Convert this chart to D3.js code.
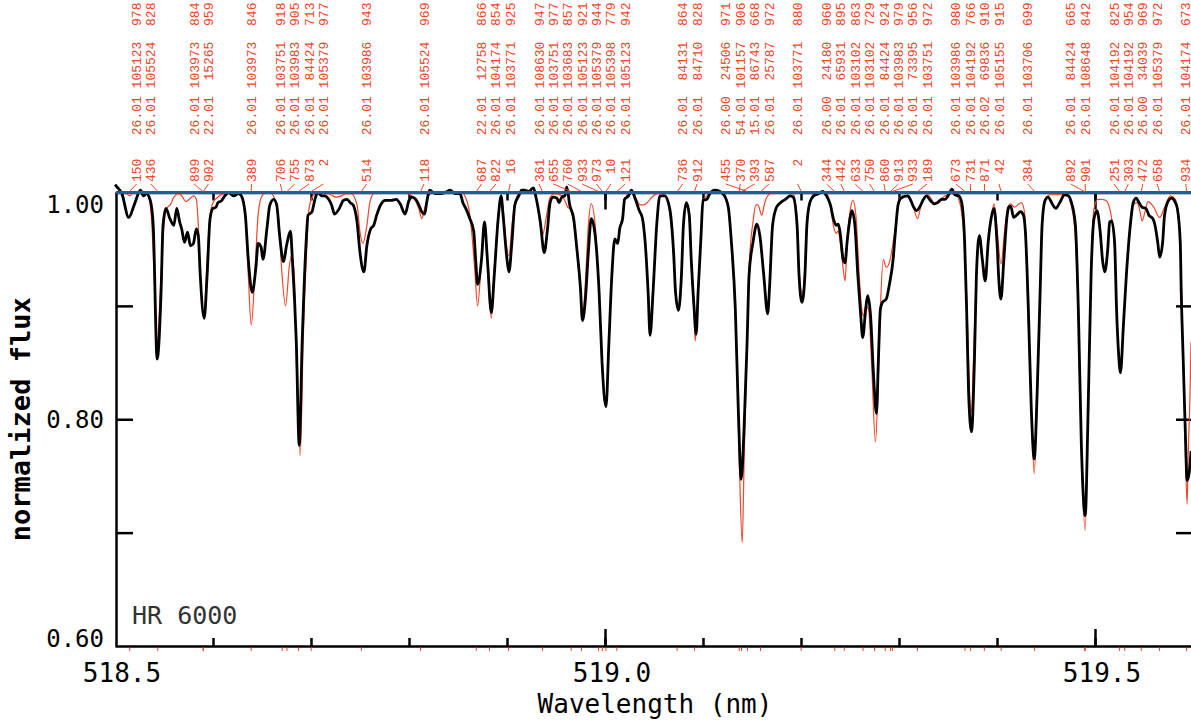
<!DOCTYPE html>
<html>
<head>
<meta charset="utf-8">
<script src="https://cdn.jsdelivr.net/npm/d3@7"></script>
<style>
  body { margin: 0; background: #fff; }
  .axis path, .axis line { stroke: #000; stroke-width: 2.5; }
  .ids text { font-family: 'Liberation Mono', 'DejaVu Sans Mono', monospace; font-size: 13px; fill: #f0462a; white-space: pre; }
</style>
</head>
<body>
<div class="canvas"></div>
<script>
// observed spectrum of HR 6000, [wavelength nm, normalized flux]
const observed = [
  [518.500,1.007],[518.502,1.005],[518.507,0.999],[518.514,0.978],[518.520,0.990],[518.526,1.002],[518.529,0.997],[518.532,0.999],
  [518.536,0.993],[518.539,0.971],[518.543,0.853],[518.547,0.912],[518.549,0.971],[518.552,0.986],[518.556,0.977],[518.560,0.971],
  [518.563,0.986],[518.566,0.974],[518.568,0.968],[518.571,0.956],[518.574,0.965],[518.577,0.953],[518.580,0.955],[518.583,0.968],
  [518.585,0.962],[518.587,0.927],[518.591,0.889],[518.594,0.927],[518.597,0.977],[518.600,0.986],[518.603,0.987],[518.605,0.991],
  [518.609,0.993],[518.612,0.997],[518.616,1.000],[518.621,0.997],[518.626,0.999],[518.629,0.997],[518.633,0.980],[518.636,0.941],
  [518.640,0.912],[518.644,0.936],[518.646,0.955],[518.649,0.952],[518.651,0.941],[518.655,0.968],[518.658,0.989],[518.662,0.994],
  [518.665,0.989],[518.668,0.962],[518.672,0.939],[518.675,0.953],[518.679,0.966],[518.681,0.941],[518.685,0.868],[518.688,0.777],
  [518.691,0.868],[518.695,0.956],[518.697,0.980],[518.701,0.983],[518.704,0.994],[518.707,1.000],[518.711,0.997],[518.714,0.997],
  [518.718,0.994],[518.721,0.989],[518.724,0.981],[518.729,0.986],[518.733,0.993],[518.737,0.994],[518.740,0.991],[518.743,0.989],
  [518.747,0.974],[518.750,0.947],[518.754,0.930],[518.757,0.953],[518.761,0.968],[518.764,0.971],[518.767,0.980],[518.771,0.989],
  [518.776,0.993],[518.782,0.993],[518.787,0.994],[518.791,0.990],[518.796,0.981],[518.800,0.993],[518.803,0.996],[518.807,0.994],
  [518.810,0.989],[518.813,0.983],[518.816,0.981],[518.818,0.991],[518.821,1.002],[518.827,0.999],[518.832,0.999],[518.837,1.000],
  [518.842,1.002],[518.847,0.999],[518.852,0.999],[518.855,0.991],[518.859,0.984],[518.862,0.977],[518.866,0.966],[518.868,0.941],
  [518.870,0.919],[518.874,0.941],[518.877,0.974],[518.880,0.941],[518.884,0.894],[518.887,0.927],[518.891,0.977],[518.894,0.997],
  [518.896,0.980],[518.900,0.941],[518.902,0.930],[518.905,0.956],[518.908,0.989],[518.912,0.997],[518.915,1.002],[518.918,1.002],
  [518.922,1.001],[518.927,1.004],[518.930,0.994],[518.934,0.974],[518.938,0.947],[518.941,0.965],[518.944,0.991],[518.947,0.996],
  [518.951,0.995],[518.953,0.991],[518.956,0.996],[518.959,0.997],[518.961,1.005],[518.964,0.989],[518.968,0.977],[518.971,0.953],
  [518.975,0.915],[518.977,0.887],[518.980,0.906],[518.983,0.947],[518.986,0.977],[518.990,0.962],[518.994,0.912],[518.997,0.850],
  [519.001,0.811],[519.004,0.868],[519.007,0.927],[519.010,0.959],[519.013,0.955],[519.015,0.968],[519.018,0.977],[519.020,0.994],
  [519.024,0.997],[519.027,1.002],[519.031,0.994],[519.035,0.984],[519.038,0.978],[519.041,0.956],[519.044,0.912],[519.046,0.874],
  [519.049,0.912],[519.053,0.974],[519.056,0.997],[519.061,0.997],[519.066,0.986],[519.070,0.947],[519.072,0.912],[519.075,0.896],
  [519.078,0.927],[519.080,0.971],[519.083,0.991],[519.086,0.980],[519.088,0.941],[519.091,0.897],[519.093,0.875],[519.095,0.912],
  [519.098,0.962],[519.100,0.993],[519.104,0.994],[519.107,0.999],[519.112,1.002],[519.117,1.001],[519.122,0.997],[519.126,0.986],
  [519.129,0.956],[519.133,0.897],[519.136,0.809],[519.139,0.747],[519.142,0.794],[519.145,0.868],[519.147,0.927],[519.151,0.956],
  [519.155,0.972],[519.158,0.962],[519.162,0.927],[519.166,0.893],[519.168,0.918],[519.171,0.971],[519.175,0.987],[519.179,0.991],
  [519.184,0.994],[519.189,0.997],[519.192,0.996],[519.196,0.971],[519.198,0.927],[519.201,0.903],[519.204,0.927],[519.206,0.971],
  [519.209,0.991],[519.213,0.997],[519.218,0.999],[519.222,1.001],[519.226,0.997],[519.230,0.989],[519.233,0.977],[519.236,0.971],
  [519.238,0.972],[519.240,0.964],[519.243,0.941],[519.245,0.938],[519.247,0.956],[519.250,0.977],[519.252,0.984],[519.255,0.971],
  [519.258,0.927],[519.261,0.891],[519.263,0.872],[519.266,0.897],[519.268,0.909],[519.271,0.891],[519.274,0.839],[519.277,0.805],
  [519.279,0.853],[519.281,0.897],[519.283,0.903],[519.287,0.906],[519.290,0.918],[519.294,0.941],[519.296,0.962],[519.299,0.989],
  [519.301,0.994],[519.304,0.996],[519.309,0.997],[519.312,0.993],[519.315,0.987],[519.318,0.984],[519.321,0.987],[519.325,0.994],
  [519.328,0.997],[519.332,0.993],[519.336,0.990],[519.339,0.991],[519.344,0.994],[519.347,0.994],[519.350,0.997],[519.354,1.003],
  [519.357,0.998],[519.361,0.997],[519.364,0.991],[519.367,0.956],[519.369,0.897],[519.371,0.824],[519.374,0.789],[519.377,0.853],
  [519.379,0.927],[519.382,0.962],[519.385,0.941],[519.388,0.922],[519.391,0.956],[519.394,0.977],[519.397,0.986],[519.400,0.956],
  [519.402,0.921],[519.404,0.906],[519.407,0.941],[519.410,0.977],[519.412,0.987],[519.414,0.988],[519.417,0.978],[519.420,0.980],
  [519.424,0.983],[519.427,0.980],[519.429,0.965],[519.432,0.897],[519.435,0.809],[519.438,0.765],[519.441,0.824],[519.444,0.912],
  [519.446,0.971],[519.449,0.993],[519.452,0.996],[519.457,0.989],[519.460,0.986],[519.464,0.991],[519.469,0.998],[519.473,0.997],
  [519.476,0.991],[519.480,0.971],[519.483,0.897],[519.486,0.780],[519.490,0.715],[519.493,0.809],[519.496,0.927],[519.499,0.977],
  [519.502,0.984],[519.505,0.968],[519.508,0.938],[519.510,0.930],[519.513,0.950],[519.515,0.974],[519.517,0.975],[519.520,0.956],
  [519.522,0.897],[519.524,0.859],[519.526,0.841],[519.529,0.883],[519.532,0.927],[519.536,0.971],[519.539,0.991],[519.542,0.995],
  [519.545,0.991],[519.548,0.987],[519.552,0.986],[519.555,0.980],[519.559,0.977],[519.561,0.972],[519.564,0.956],[519.566,0.943],
  [519.569,0.956],[519.571,0.980],[519.575,0.993],[519.578,0.995],[519.582,0.991],[519.584,0.986],[519.587,0.956],[519.588,0.912],
  [519.590,0.853],[519.592,0.794],[519.594,0.746],[519.596,0.752],[519.598,0.772]
];

// synthetic spectrum, [wavelength nm, normalized flux]
const synthetic = [
  [518.500,1.000],[518.505,1.000],[518.510,1.000],[518.515,0.997],[518.519,1.000],[518.526,1.000],[518.531,1.000],[518.534,0.997],
  [518.537,0.980],[518.540,0.927],[518.543,0.868],[518.547,0.927],[518.550,0.971],[518.553,0.986],[518.557,0.990],[518.560,0.996],
  [518.565,0.999],[518.569,0.996],[518.572,0.992],[518.577,0.995],[518.580,0.997],[518.583,0.994],[518.585,0.971],[518.587,0.927],
  [518.591,0.893],[518.594,0.941],[518.597,0.980],[518.600,0.991],[518.605,0.996],[518.611,0.999],[518.617,1.000],[518.626,1.000],
  [518.629,0.997],[518.633,0.977],[518.636,0.927],[518.639,0.883],[518.643,0.933],[518.646,0.980],[518.650,0.997],[518.655,1.000],
  [518.660,0.999],[518.663,0.994],[518.667,0.977],[518.670,0.933],[518.674,0.900],[518.678,0.936],[518.680,0.944],[518.683,0.927],
  [518.685,0.853],[518.689,0.768],[518.692,0.868],[518.696,0.956],[518.698,0.986],[518.702,0.997],[518.707,1.000],[518.713,0.999],
  [518.718,0.999],[518.722,0.997],[518.726,0.996],[518.731,0.997],[518.736,0.999],[518.741,0.999],[518.747,0.989],[518.750,0.965],
  [518.753,0.955],[518.757,0.971],[518.760,0.991],[518.764,0.999],[518.770,1.000],[518.781,1.000],[518.789,1.000],[518.799,0.999],
  [518.804,0.996],[518.810,0.986],[518.813,0.977],[518.816,0.986],[518.820,0.997],[518.825,1.000],[518.854,1.000],[518.857,0.997],
  [518.861,0.986],[518.864,0.965],[518.867,0.933],[518.870,0.900],[518.874,0.941],[518.877,0.971],[518.880,0.936],[518.884,0.889],
  [518.887,0.933],[518.891,0.980],[518.894,0.997],[518.896,0.986],[518.899,0.956],[518.902,0.944],[518.905,0.971],[518.909,0.994],
  [518.913,1.000],[518.925,1.000],[518.929,0.997],[518.932,0.983],[518.936,0.962],[518.941,0.983],[518.944,0.996],[518.949,0.999],
  [518.956,0.997],[518.959,0.993],[518.962,0.987],[518.964,0.986],[518.968,0.974],[518.971,0.950],[518.975,0.912],[518.977,0.890],
  [518.980,0.921],[518.983,0.971],[518.986,0.990],[518.990,0.971],[518.994,0.909],[518.997,0.847],[519.001,0.812],[519.004,0.868],
  [519.007,0.927],[519.010,0.956],[519.013,0.955],[519.015,0.968],[519.018,0.980],[519.020,0.994],[519.026,1.000],[519.031,0.996],
  [519.036,0.989],[519.039,0.989],[519.043,0.991],[519.048,0.996],[519.053,0.999],[519.057,1.000],[519.061,0.997],[519.066,0.983],
  [519.070,0.944],[519.072,0.912],[519.075,0.897],[519.078,0.927],[519.080,0.968],[519.083,0.990],[519.086,0.977],[519.088,0.936],
  [519.091,0.889],[519.092,0.869],[519.095,0.912],[519.098,0.965],[519.100,0.993],[519.104,0.997],[519.111,1.001],[519.119,1.000],
  [519.124,0.994],[519.127,0.977],[519.130,0.941],[519.134,0.868],[519.137,0.765],[519.140,0.691],[519.142,0.765],[519.145,0.868],
  [519.147,0.933],[519.151,0.974],[519.154,0.989],[519.156,0.989],[519.160,0.980],[519.163,0.991],[519.167,0.998],[519.173,1.000],
  [519.185,1.000],[519.192,0.999],[519.196,0.977],[519.198,0.933],[519.201,0.911],[519.204,0.933],[519.206,0.977],[519.210,0.994],
  [519.214,1.000],[519.222,1.000],[519.226,0.999],[519.230,0.989],[519.233,0.971],[519.236,0.964],[519.238,0.966],[519.240,0.956],
  [519.243,0.933],[519.245,0.922],[519.247,0.956],[519.250,0.983],[519.253,0.993],[519.256,0.980],[519.259,0.933],[519.262,0.897],
  [519.264,0.891],[519.266,0.900],[519.269,0.897],[519.272,0.850],[519.276,0.780],[519.279,0.839],[519.281,0.897],[519.284,0.941],
  [519.287,0.934],[519.291,0.941],[519.294,0.956],[519.298,0.980],[519.300,0.994],[519.304,0.997],[519.310,0.997],[519.314,0.989],
  [519.319,0.977],[519.322,0.987],[519.326,0.996],[519.330,0.998],[519.333,0.994],[519.337,0.990],[519.342,0.994],[519.347,0.997],
  [519.352,0.999],[519.357,0.999],[519.362,0.991],[519.367,0.950],[519.370,0.883],[519.372,0.824],[519.374,0.806],[519.376,0.853],
  [519.379,0.927],[519.383,0.959],[519.385,0.944],[519.388,0.927],[519.391,0.956],[519.395,0.983],[519.397,0.990],[519.400,0.968],
  [519.404,0.937],[519.408,0.968],[519.411,0.987],[519.414,0.990],[519.418,0.987],[519.421,0.989],[519.425,0.991],[519.428,0.983],
  [519.431,0.912],[519.435,0.809],[519.438,0.752],[519.441,0.824],[519.444,0.918],[519.446,0.974],[519.450,0.994],[519.454,0.998],
  [519.466,0.998],[519.471,0.999],[519.474,0.994],[519.479,0.971],[519.483,0.891],[519.486,0.774],[519.490,0.702],[519.493,0.809],
  [519.496,0.933],[519.499,0.986],[519.503,0.994],[519.507,0.994],[519.511,0.993],[519.514,0.989],[519.517,0.977],[519.520,0.950],
  [519.522,0.897],[519.526,0.841],[519.529,0.883],[519.532,0.927],[519.536,0.971],[519.539,0.989],[519.543,0.991],[519.546,0.983],
  [519.548,0.975],[519.551,0.983],[519.554,0.992],[519.560,0.987],[519.566,0.978],[519.571,0.987],[519.577,0.997],[519.582,0.994],
  [519.585,0.980],[519.588,0.927],[519.590,0.853],[519.592,0.780],[519.594,0.725],[519.595,0.765],[519.597,0.824],[519.598,0.868]
];

// identified lines: wavelength (Angstrom), species code, lower level (cm-1), strength code
const lineWave = [5185.150, 5185.436, 5185.899, 5185.902, 5186.389, 5186.706, 5186.755, 5186.873, 5187.002, 5187.514,
  5188.118, 5188.687, 5188.822, 5189.016, 5189.361, 5189.655, 5189.760, 5189.933, 5189.973, 5190.010, 5190.121,
  5190.736, 5190.912, 5191.455, 5191.370, 5191.393, 5191.587, 5192.002, 5192.344, 5192.442, 5192.633, 5192.750,
  5192.860, 5192.913, 5192.933, 5193.189, 5193.673, 5193.731, 5193.871, 5194.042, 5194.384, 5194.892, 5194.901,
  5195.251, 5195.303, 5195.472, 5195.658, 5195.934];
const lineSpecies = ['26.01', '26.01', '26.01', '22.01', '26.01', '26.01', '26.01', '26.01', '26.01', '26.01',
  '26.01', '22.01', '26.01', '26.01', '26.01', '26.01', '26.01', '26.01', '26.01', '26.01', '26.01',
  '26.01', '26.01', '26.00', '54.01', '15.01', '26.01', '26.01', '26.00', '26.01', '26.01', '26.01',
  '26.01', '26.01', '26.01', '26.01', '26.01', '26.01', '26.02', '26.01', '26.01', '26.01', '26.01',
  '26.01', '26.01', '26.00', '26.01', '26.01'];
const lineLevel = [105123, 105524, 103973, 15265, 103973, 103751, 103983, 84424, 105379, 103986,
  105524, 12758, 104174, 103771, 108630, 103751, 103683, 105123, 105379, 105398, 105123,
  84131, 84710, 24506, 101157, 86743, 25787, 103771, 24180, 65931, 103102, 103102,
  84424, 103983, 73395, 103751, 103986, 104192, 69836, 105155, 103706, 84424, 108648,
  104192, 104192, 34039, 105379, 104174];
const lineStrength = [978, 828, 884, 959, 846, 918, 905, 713, 977, 943,
  969, 866, 854, 925, 947, 977, 857, 921, 944, 779, 942,
  864, 828, 971, 906, 668, 972, 880, 960, 895, 863, 729,
  924, 979, 956, 972, 980, 766, 910, 915, 699, 665, 842,
  825, 954, 969, 972, 673];

const xTicks = [518.5, 519.0, 519.5];
const xTickLabels = ['518.5', '519.0', '519.5'];
const yTicks = [0.6, 0.8, 1.0];
const yTickLabels = ['0.60', '0.80', '1.00'];

const svg = d3.select('.canvas')
    .append('svg')
    .attr('width', 1191)
    .attr('height', 723);

const x = d3.scaleLinear().domain([518.5, 519.6]).range([115, 1193]);
const y = d3.scaleLinear().domain([0.6, 1.0]).range([646, 192.5]);

// minor ticks every 0.1 nm / 0.1 flux
const minorX = d3.range(1, 11).map(i => +(518.5 + i * 0.1).toFixed(1));
const innerY = [0.7, 0.8, 0.9];

const strip = g => g.selectAll('text').remove();

// bottom axis
svg.append('g').attr('class', 'axis')
    .attr('transform', `translate(0,${y(0.6)})`)
    .call(d3.axisBottom(x).tickValues(minorX).tickSize(-8).tickSizeOuter(0))
    .call(strip);
svg.append('g').attr('class', 'axis')
    .attr('transform', `translate(0,${y(0.6)})`)
    .call(d3.axisBottom(x).tickValues(xTicks.slice(1)).tickSize(-17).tickSizeOuter(0))
    .call(strip)
    .call(g => g.select('.domain').remove());

// top axis (hidden under the continuum)
svg.append('g').attr('class', 'axis')
    .attr('transform', `translate(0,${y(1.0)})`)
    .call(d3.axisTop(x).tickValues(minorX).tickSize(-8).tickSizeOuter(0))
    .call(strip);
svg.append('g').attr('class', 'axis')
    .attr('transform', `translate(0,${y(1.0)})`)
    .call(d3.axisTop(x).tickValues(xTicks.slice(1)).tickSize(-17).tickSizeOuter(0))
    .call(strip)
    .call(g => g.select('.domain').remove());

// left and right axes
svg.append('g').attr('class', 'axis')
    .attr('transform', `translate(${x(518.5) + 1},0)`)
    .call(d3.axisLeft(y).tickValues(innerY).tickSize(-17).tickSizeOuter(0))
    .call(strip);
svg.append('g').attr('class', 'axis')
    .attr('transform', `translate(${x(519.6)},0)`)
    .call(d3.axisRight(y).tickValues(innerY).tickSize(-17).tickSizeOuter(0))
    .call(strip);

// tick labels
svg.append('g').selectAll('text')
    .data(xTicks)
    .join('text')
    .attr('x', d => x(d) + 7)
    .attr('y', 682)
    .attr('text-anchor', 'middle')
    .style('font-family', "'DejaVu Sans Mono', monospace")
    .style('font-size', '26px')
    .text((d, i) => xTickLabels[i]);

svg.append('g').selectAll('text')
    .data(yTicks)
    .join('text')
    .attr('x', 104)
    .attr('y', d => Math.min(Math.max(y(d) + 9, y(1.0) + 20.5), y(0.6) + 0.5))
    .attr('text-anchor', 'end')
    .style('font-family', "'DejaVu Sans Mono', monospace")
    .style('font-size', '24px')
    .text((d, i) => yTickLabels[i]);

// axis titles
svg.append('text')
    .attr('x', 655)
    .attr('y', 713)
    .attr('text-anchor', 'middle')
    .style('font-family', "'DejaVu Sans Mono', monospace")
    .style('font-size', '26px')
    .text('Wavelength (nm)');

svg.append('text')
    .attr('transform', `translate(30,${(y(0.6) + y(1.0)) / 2}) rotate(-90)`)
    .attr('text-anchor', 'middle')
    .style('font-family', "'DejaVu Sans Mono', monospace")
    .style('font-size', '27px')
    .style('font-weight', 'bold')
    .text('normalized flux');

svg.append('text')
    .attr('x', x(518.5) + 17)
    .attr('y', y(0.6) - 22)
    .style('font-family', "'DejaVu Sans Mono', monospace")
    .style('font-size', '25px')
    .style('fill', '#333')
    .text('HR 6000');

// spectra
const line = d3.line()
    .x(d => x(d[0]))
    .y(d => y(d[1]))
    .curve(d3.curveMonotoneX);

svg.append('path')
    .datum(synthetic)
    .attr('d', line)
    .attr('fill', 'none')
    .attr('stroke', '#f0462a')
    .attr('stroke-width', 1.2);

svg.append('path')
    .datum(observed)
    .attr('d', line)
    .attr('fill', 'none')
    .attr('stroke', '#000')
    .attr('stroke-width', 2.8)
    .attr('stroke-linejoin', 'round');

// continuum
svg.append('line')
    .attr('x1', x(518.5) + 1).attr('x2', x(519.6))
    .attr('y1', y(1.0)).attr('y2', y(1.0))
    .attr('stroke', '#1f5e9c')
    .attr('stroke-width', 3);

// line identifications: labels snapped to slots, overlapping ones spread around their mean
const slotCount = 75;
const slotW = (x.range()[1] - x.range()[0]) / slotCount;
const slotX = k => x.range()[0] + (k + 0.5) * slotW;

const lines = lineWave.map((w, i) => {
  const frac = String(Math.round((w % 1) * 1000));
  return {
    nm: w / 10,
    text: frac.padStart(3) + '   ' + lineSpecies[i] + ' ' + String(lineLevel[i]).padStart(6) + '  ' + String(lineStrength[i]).padStart(3)
  };
});

const clusters = [];
lines.forEach(d => {
  d.u = (x(d.nm) - x.range()[0]) / slotW - 0.5;
  clusters.push({ members: [d], sum: d.u, start: Math.round(d.u) });
  while (clusters.length > 1) {
    const b = clusters[clusters.length - 1];
    const a = clusters[clusters.length - 2];
    if (a.start + a.members.length <= b.start) break;
    a.members = a.members.concat(b.members);
    a.sum += b.sum;
    const n = a.members.length;
    a.start = Math.round(a.sum / n - (n - 1) / 2);
    clusters.pop();
  }
});
clusters.forEach(c => c.members.forEach((d, k) => d.slot = c.start + k));

const ids = svg.append('g').attr('class', 'ids');

ids.selectAll('line.leader')
    .data(lines)
    .join('line')
    .attr('class', 'leader')
    .attr('x1', d => slotX(d.slot)).attr('y1', 184)
    .attr('x2', d => x(d.nm)).attr('y2', y(1.0) - 1)
    .attr('stroke', '#f0462a')
    .attr('stroke-width', 1);

ids.selectAll('line.mark')
    .data(lines)
    .join('line')
    .attr('class', 'mark')
    .attr('x1', d => x(d.nm)).attr('x2', d => x(d.nm))
    .attr('y1', y(0.6) + 1.5).attr('y2', y(0.6) + 5)
    .attr('stroke', '#f0462a')
    .attr('stroke-width', 1);

ids.selectAll('text')
    .data(lines)
    .join('text')
    .attr('transform', d => `translate(${slotX(d.slot)},182) rotate(-90)`)
    .attr('dy', '0.35em')
    .attr('xml:space', 'preserve')
    .text(d => d.text);
</script>
</body>
</html>
